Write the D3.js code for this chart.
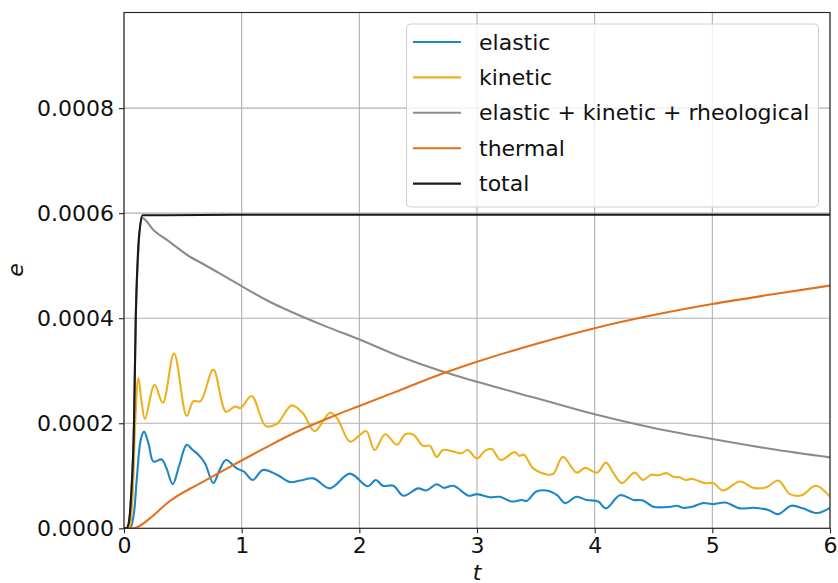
<!DOCTYPE html>
<html>
<head>
<meta charset="utf-8">
<script src="https://cdn.jsdelivr.net/npm/d3@7"></script>
<style>
  html, body { margin: 0; padding: 0; background: #fff; }
  svg { display: block; }
  text { font-family: "DejaVu Sans", sans-serif; }
</style>
</head>
<body>
<svg id="chart" width="838" height="583"></svg>
<script>
// Energy components over time
const elasticT = [0,0.05,0.08,0.108,0.142,0.17,0.21,0.25,0.32,0.36,0.414,0.47,0.533,0.58,0.632,0.688,0.759,0.81,0.867,0.958,1.02,1.094,1.18,1.30,1.41,1.50,1.61,1.75,1.92,2.07,2.14,2.20,2.29,2.374,2.50,2.57,2.657,2.72,2.80,2.93,3.0,3.11,3.195,3.295,3.38,3.42,3.505,3.59,3.68,3.75,3.845,3.93,4.03,4.096,4.215,4.33,4.41,4.50,4.64,4.70,4.75,4.83,4.92,5.01,5.11,5.235,5.35,5.475,5.56,5.67,5.77,5.89,6.0];
const elasticE = [0,0,0.22e-4,0.92e-4,1.68e-4,1.84e-4,1.6e-4,1.27e-4,1.31e-4,1.15e-4,0.84e-4,1.2e-4,1.59e-4,1.5e-4,1.40e-4,1.24e-4,0.86e-4,1.1e-4,1.30e-4,1.14e-4,1.08e-4,0.92e-4,1.11e-4,1.02e-4,0.88e-4,0.91e-4,0.95e-4,0.76e-4,1.04e-4,0.80e-4,0.92e-4,0.81e-4,0.81e-4,0.62e-4,0.76e-4,0.72e-4,0.84e-4,0.77e-4,0.81e-4,0.62e-4,0.65e-4,0.59e-4,0.60e-4,0.51e-4,0.54e-4,0.52e-4,0.70e-4,0.72e-4,0.63e-4,0.48e-4,0.60e-4,0.54e-4,0.51e-4,0.38e-4,0.63e-4,0.54e-4,0.53e-4,0.41e-4,0.41e-4,0.43e-4,0.39e-4,0.41e-4,0.48e-4,0.46e-4,0.49e-4,0.38e-4,0.39e-4,0.35e-4,0.27e-4,0.43e-4,0.38e-4,0.29e-4,0.39e-4];

const kineticT = [0,0.04,0.07,0.095,0.122,0.15,0.178,0.26,0.33,0.425,0.533,0.59,0.65,0.759,0.867,0.943,0.99,1.085,1.204,1.30,1.425,1.52,1.62,1.75,1.81,1.92,2.005,2.06,2.13,2.22,2.32,2.39,2.46,2.54,2.60,2.657,2.71,2.80,2.87,2.92,3.0,3.07,3.125,3.20,3.32,3.36,3.40,3.478,3.607,3.65,3.73,3.847,3.92,4.02,4.096,4.16,4.23,4.34,4.41,4.48,4.54,4.61,4.67,4.725,4.77,4.83,4.935,5.01,5.09,5.235,5.35,5.46,5.56,5.66,5.76,5.88,6.0];
const kineticE = [0,0,0.5e-4,2.0e-4,2.86e-4,2.4e-4,2.08e-4,2.73e-4,2.39e-4,3.33e-4,2.14e-4,2.42e-4,2.42e-4,3.02e-4,2.22e-4,2.32e-4,2.29e-4,2.52e-4,1.95e-4,1.99e-4,2.34e-4,2.19e-4,1.85e-4,2.20e-4,2.1e-4,1.65e-4,1.78e-4,1.85e-4,1.49e-4,1.79e-4,1.59e-4,1.79e-4,1.78e-4,1.57e-4,1.57e-4,1.36e-4,1.49e-4,1.46e-4,1.43e-4,1.49e-4,1.33e-4,1.48e-4,1.51e-4,1.30e-4,1.45e-4,1.38e-4,1.40e-4,1.14e-4,1.02e-4,1.04e-4,1.36e-4,1.06e-4,1.15e-4,1.06e-4,1.25e-4,1.05e-4,0.86e-4,1.06e-4,0.92e-4,1.02e-4,1.01e-4,1.05e-4,0.98e-4,0.97e-4,0.92e-4,0.94e-4,0.86e-4,0.86e-4,0.72e-4,0.89e-4,0.77e-4,0.78e-4,0.91e-4,0.65e-4,0.63e-4,0.81e-4,0.60e-4];

const mechT = [0,0.03,0.06,0.085,0.10,0.12,0.153,0.25,0.39,0.56,0.65,0.93,1.25,1.354,1.72,2.006,2.346,2.714,3.0,3.5,4.0,4.5,5.0,5.5,6.0];
const mechE = [0,0,0.6e-4,2.0e-4,4.0e-4,5.2e-4,5.91e-4,5.68e-4,5.45e-4,5.17e-4,5.06e-4,4.70e-4,4.30e-4,4.19e-4,3.84e-4,3.59e-4,3.27e-4,2.98e-4,2.79e-4,2.48e-4,2.17e-4,1.91e-4,1.70e-4,1.51e-4,1.35e-4];

const thermalT = [0,0.08,0.12,0.22,0.39,0.674,0.958,1.24,1.5,1.75,2.0,2.346,2.714,3.0,3.5,4.0,4.5,5.0,5.5,6.0];
const thermalE = [0,0,0.03e-4,0.19e-4,0.52e-4,0.89e-4,1.24e-4,1.58e-4,1.87e-4,2.11e-4,2.33e-4,2.63e-4,2.95e-4,3.17e-4,3.51e-4,3.81e-4,4.06e-4,4.27e-4,4.45e-4,4.62e-4];

const totalT = [0,0.02,0.04,0.06,0.085,0.10,0.12,0.14,0.158,0.3,1,2,3,4,5,6];
const totalE = [0,0,0.1e-4,0.6e-4,2.0e-4,4.0e-4,5.3e-4,5.8e-4,5.96e-4,5.96e-4,5.97e-4,5.97e-4,5.97e-4,5.97e-4,5.97e-4,5.97e-4];

const seriesNames = ["elastic", "kinetic", "elastic + kinetic + rheological", "thermal", "total"];
const seriesColors = ["#1f86c6", "#EDB120", "#8c8c8c", "#E2711D", "#1a1a1a"];
const seriesT = [elasticT, kineticT, mechT, thermalT, totalT];
const seriesE = [elasticE, kineticE, mechE, thermalE, totalE];

const xTicks = [0, 1, 2, 3, 4, 5, 6];
const yTicks = [0, 0.0002, 0.0004, 0.0006, 0.0008];

const svg = d3.select("#chart");
const plot = { left: 124, right: 830, top: 12.5, bottom: 528.3 };

const x = d3.scaleLinear().domain([0, 6]).range([plot.left, plot.right]);
const y = d3.scaleLinear().domain([0, 0.000982]).range([plot.bottom, plot.top]);

// grid
const grid = svg.append("g");
grid.selectAll("line.gx").data(xTicks).join("line")
  .attr("x1", d => x(d)).attr("x2", d => x(d))
  .attr("y1", plot.top).attr("y2", plot.bottom)
  .attr("stroke", "#b0b0b0").attr("stroke-width", 1.1);
grid.selectAll("line.gy").data(yTicks).join("line")
  .attr("y1", d => y(d)).attr("y2", d => y(d))
  .attr("x1", plot.left).attr("x2", plot.right)
  .attr("stroke", "#b0b0b0").attr("stroke-width", 1.1);

// data lines
svg.append("clipPath").attr("id", "clip").append("rect")
  .attr("x", plot.left).attr("y", plot.top)
  .attr("width", plot.right - plot.left).attr("height", plot.bottom - plot.top);

// oscillating series get a smooth spline; the steep rises keep a monotone curve
const smoothLine = d3.line().x(d => x(d[0])).y(d => y(d[1])).curve(d3.curveCatmullRom.alpha(0.5));
const monoLine = d3.line().x(d => x(d[0])).y(d => y(d[1])).curve(d3.curveMonotoneX);
const curveFor = [smoothLine, smoothLine, monoLine, monoLine, monoLine];

const lines = svg.append("g").attr("clip-path", "url(#clip)");
seriesNames.forEach((name, i) => {
  const pts = seriesT[i].map((t, j) => [t, seriesE[i][j]]);
  lines.append("path").datum(pts)
    .attr("d", curveFor[i])
    .attr("fill", "none")
    .attr("stroke", seriesColors[i])
    .attr("stroke-width", 2.1)
    .attr("stroke-linejoin", "round");
});

// axes
const xAxis = d3.axisBottom(x).tickValues(xTicks).tickFormat(d3.format("d")).tickSize(5).tickPadding(4);
const yAxis = d3.axisLeft(y).tickValues(yTicks).tickFormat(d3.format(".4f")).tickSize(5).tickPadding(5);

const gx = svg.append("g").attr("transform", `translate(0,${plot.bottom})`).call(xAxis);
const gy = svg.append("g").attr("transform", `translate(${plot.left},0)`).call(yAxis);
[gx, gy].forEach(g => {
  g.select(".domain").remove();
  g.selectAll(".tick line").attr("stroke", "#222").attr("stroke-width", 1.1);
  g.selectAll(".tick text").attr("font-size", 22).attr("fill", "#111")
    .attr("font-family", "DejaVu Sans");
});

// frame
svg.append("rect")
  .attr("x", plot.left).attr("y", plot.top)
  .attr("width", plot.right - plot.left).attr("height", plot.bottom - plot.top)
  .attr("fill", "none").attr("stroke", "#222").attr("stroke-width", 1.1);

// axis labels
svg.append("text").attr("x", x(3)).attr("y", 572)
  .attr("text-anchor", "middle").attr("dominant-baseline", "central")
  .attr("font-size", 22).attr("font-style", "italic").attr("fill", "#111").text("t");
svg.append("text").attr("transform", "translate(15,270) rotate(-90)")
  .attr("text-anchor", "middle").attr("dominant-baseline", "central")
  .attr("font-size", 22).attr("font-style", "italic").attr("fill", "#111").text("e");

// legend
const legend = svg.append("g");
legend.append("rect")
  .attr("x", 406.5).attr("y", 24).attr("width", 412).attr("height", 183)
  .attr("rx", 4).attr("fill", "#fff").attr("fill-opacity", 0.8)
  .attr("stroke", "#d0d0d0").attr("stroke-width", 1);
seriesNames.forEach((name, i) => {
  const cy = 42 + i * 35.4;
  legend.append("line")
    .attr("x1", 413).attr("x2", 461).attr("y1", cy).attr("y2", cy)
    .attr("stroke", seriesColors[i]).attr("stroke-width", 2.1);
  legend.append("text")
    .attr("x", 479).attr("y", cy)
    .attr("dominant-baseline", "central")
    .attr("font-size", 22).attr("fill", "#111").text(name);
});
</script>
</body>
</html>
